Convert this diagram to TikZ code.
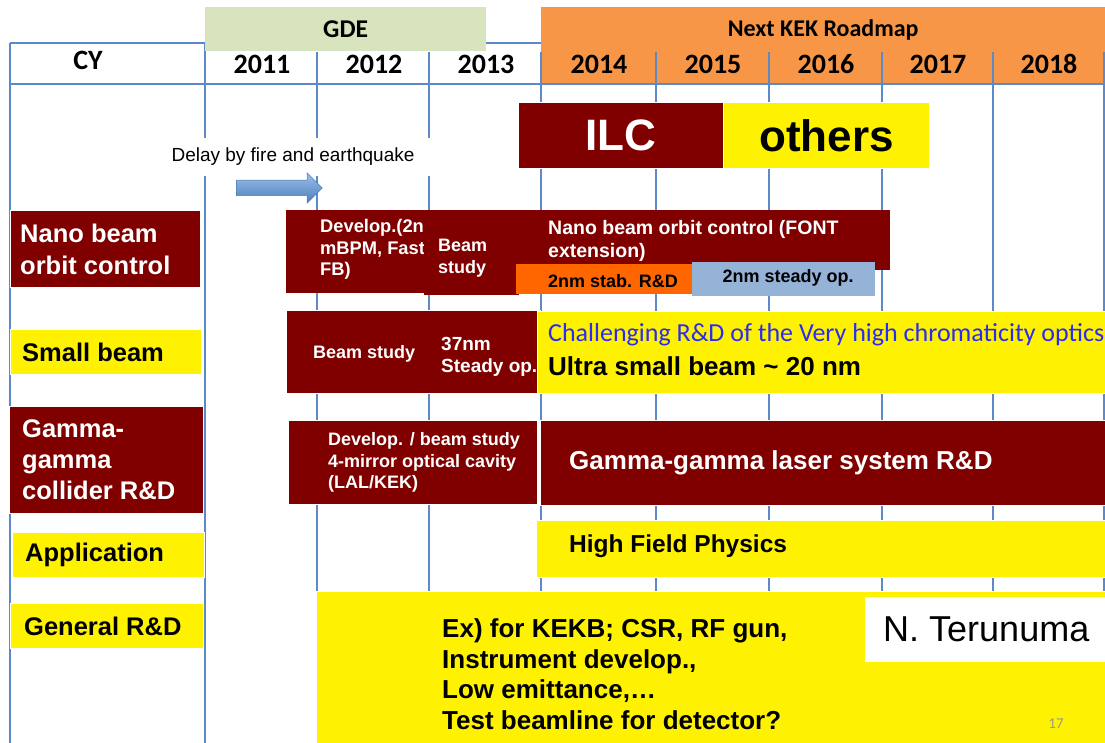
\documentclass[tikz,border=0pt]{standalone}
\usepackage{fontspec}
\setmainfont{Liberation Sans}
\newfontfamily\calfont{Carlito}
\usetikzlibrary{shapes.arrows}
\definecolor{maroon}{HTML}{800000}
\definecolor{gridblue}{HTML}{5B8AC6}
\definecolor{gdegreen}{HTML}{D7E4BD}
\definecolor{kekorange}{HTML}{F79646}
\definecolor{staborange}{HTML}{FF6600}
\definecolor{steadyblue}{HTML}{95B3D7}
\definecolor{optblue}{HTML}{2B2BF5}
\definecolor{arrowtop}{HTML}{9DBFE8}
\definecolor{arrowbot}{HTML}{4A7EBB}
\newcommand\fsz[2]{\fontsize{#1}{#2}\selectfont}

\begin{document}
\begin{tikzpicture}[x=1pt,y=-1pt,
  gridline/.style={gridblue,line width=2.5pt},
  darkbox/.style={fill=maroon,draw=white,line width=1pt,anchor=north west,inner sep=0pt},
  yelbox/.style={fill=yellow,draw=white,line width=1pt,anchor=north west,inner sep=0pt},
  plainbox/.style={anchor=north west,inner sep=0pt},
  wtxt/.style={anchor=west,align=left,inner sep=0pt,text=white,font=\bfseries},
  btxt/.style={anchor=west,align=left,inner sep=0pt,font=\bfseries},
  year/.style={font=\calfont\bfseries\fsz{28}{28}},
  big/.style={font=\bfseries\fsz{25.5}{32}},
  small/.style={font=\bfseries\fsz{18}{21.5}}]

\clip (0,0) rectangle (1105,743);

\node[plainbox,fill=kekorange,minimum width=564,minimum height=77] (kek) at (541,7) {};
\draw[gridline] (10,43) -- (541,43);
\foreach \x in {10,205}
  \draw[gridline] (\x,43) -- (\x,743);
\foreach \x in {317,429,541,656,769,882,993,1104}
  \draw[gridline] (\x,52) -- (\x,743);
\draw[gridline] (10,84) -- (1105,84);
\node[plainbox,fill=gdegreen,minimum width=281,minimum height=44,font=\calfont\bfseries\fsz{25.6}{26}] (gde) at (205,7) {GDE};
\node[font=\calfont\bfseries\fsz{24}{24}] (kektxt) at ([yshift=-23]kek.north) {Next KEK Roadmap};

\node[year] (cy) at (88,60) {CY};
\foreach \y/\x in {2011/262,2012/374,2013/486,2014/599,2015/713,2016/826,2017/938,2018/1049}
  \node[year] (y\y) at (\x,64) {\y};

\node[darkbox,minimum width=205,minimum height=66,text=white,font=\bfseries\fsz{44}{44}] (ilc) at (518,102) {ILC};
\node[yelbox,minimum width=206,minimum height=66,font=\bfseries\fsz{44}{44}] (others) at (723,102) {others};

\node[fill=white,minimum width=280,minimum height=38,inner sep=0pt,font=\fsz{19}{19}] (delay) at (293,157) {Delay by fire and earthquake};
\node[single arrow,anchor=tail,top color=arrowtop,bottom color=arrowbot,draw=arrowbot,line width=0.5pt,
  minimum height=86,inner xsep=0pt,inner ysep=7.5pt,single arrow head extend=7.5pt] (delayarrow) at (236,188) {};

\node[darkbox,minimum width=190,minimum height=77] (nano) at (10,210) {};
\node[wtxt,big] at ([xshift=10]nano.west) {Nano beam\\orbit control};
\node[yelbox,minimum width=191,minimum height=45] (small) at (10,329) {};
\node[btxt,big] at ([xshift=12]small.west) {Small beam};
\node[darkbox,minimum width=194,minimum height=107] (gamma) at (9,406) {};
\node[wtxt,font=\bfseries\fsz{25.5}{31}] at ([xshift=13]gamma.west) {Gamma-\\gamma\\collider R\&D};
\node[yelbox,minimum width=192,minimum height=45] (appl) at (12,532) {};
\node[btxt,big] at ([xshift=13]appl.west) {Application};
\node[yelbox,minimum width=193,minimum height=45] (general) at (10,603) {};
\node[btxt,big] at ([xshift=14]general.west) {General R\&D};

\node[darkbox,draw=none,minimum width=143,minimum height=82] (dev1) at (285,210) {};
\node[wtxt,font=\bfseries\fsz{18.3}{21.5}] at ([xshift=35,yshift=2]dev1.west) {Develop.(2n\\mBPM, Fast\\FB)};
\node[darkbox,draw=none,minimum width=95,minimum height=84] (bs1) at (423,210) {};
\node[wtxt,small] at ([xshift=15,yshift=-5.5]bs1.west) {Beam\\study};
\node[darkbox,draw=none,minimum width=373,minimum height=60] (fontbox) at (516,210) {};
\node[wtxt,font=\bfseries\fsz{19.5}{23}] at ([xshift=32]fontbox.west) {Nano beam orbit control (FONT\\extension)};
\node[plainbox,fill=staborange,minimum width=176,minimum height=30] (stab) at (516,264) {};
\node[btxt,small] at ([xshift=32,yshift=-1.5]stab.west) {2nm stab. R\&D};
\node[plainbox,fill=steadyblue,minimum width=183,minimum height=34] (steady) at (692,262) {};
\node[small] at ([xshift=4.5,yshift=1]steady.center) {2nm steady op.};

\node[darkbox,minimum width=254,minimum height=83] (bs2) at (286,310) {};
\node[wtxt,small] at ([xshift=27,yshift=-1.5]bs2.west) {Beam study};
\node[wtxt,font=\bfseries\fsz{19}{22}] at ([xshift=155,yshift=-4.5]bs2.west) {37nm\\Steady op.};
\node[yelbox,minimum width=568,minimum height=82] (ultra) at (537,311) {};
\node[anchor=west,inner sep=0pt,text=optblue,font=\calfont\fsz{26}{26}] at ([xshift=11,yshift=18]ultra.west) {Challenging R\&D of the Very high chromaticity optics};
\node[btxt,font=\bfseries\fsz{26}{26}] at ([xshift=11,yshift=-14]ultra.west) {Ultra small beam \textasciitilde\ 20 nm};

\node[darkbox,minimum width=249,minimum height=84] (dev3) at (288,420) {};
\node[wtxt,small] at ([xshift=40]dev3.west) {Develop. / beam study\\4-mirror optical cavity\\(LAL/KEK)};
\node[darkbox,minimum width=565,minimum height=85] (laser) at (540,420) {};
\node[wtxt,font=\bfseries\fsz{26}{26}] at ([xshift=29]laser.west) {Gamma-gamma laser system R\&D};

\node[yelbox,minimum width=569,minimum height=57] (hfp) at (536,520) {};
\node[btxt,font=\bfseries\fsz{24.5}{24.5}] at ([xshift=33,yshift=2.5]hfp.west) {High Field Physics};

\node[yelbox,minimum width=789,minimum height=152] (gen2) at (316,591) {};
\node[btxt,font=\bfseries\fsz{26}{30.5}] at ([xshift=126,yshift=-6.5]gen2.west) {Ex) for KEKB; CSR, RF gun,\\Instrument develop.,\\Low emittance,\dots\\Test beamline for detector?};
\node[plainbox,fill=white,minimum width=240,minimum height=65] (author) at (865,597) {};
\node[anchor=west,inner sep=0pt,font=\fsz{36}{36}] at ([xshift=18]author.west) {N. Terunuma};
\node[text=gray!80,font=\calfont\fsz{15}{15}] (page) at (1056,724) {17};
\end{tikzpicture}
\end{document}
